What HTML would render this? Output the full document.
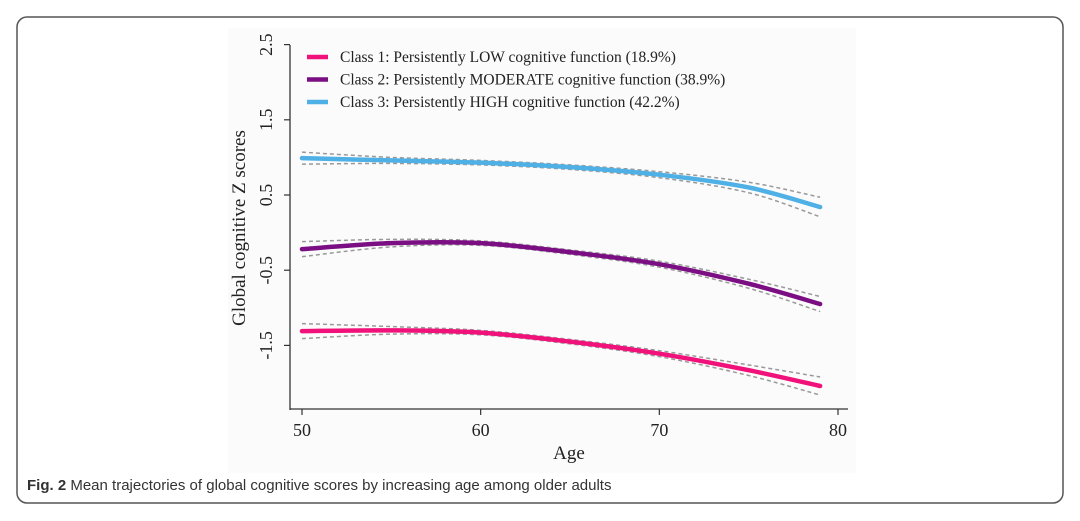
<!DOCTYPE html>
<html><head><meta charset="utf-8"><style>
body{margin:0;background:#fff;width:1080px;height:521px;overflow:hidden}
svg{position:absolute;left:0;top:0}
</style></head><body>
<svg width="1080" height="521">
<rect x="17" y="17" width="1046" height="486" rx="10" fill="#fff" stroke="#555" stroke-width="1.5"/>
<rect x="228" y="28" width="628" height="445" fill="#fbfbfb"/>
<g id="plot"></g>
<text x="27" y="490" font-family="'Liberation Sans',sans-serif" font-size="15" fill="#333"><tspan font-weight="bold">Fig. 2</tspan> Mean trajectories of global cognitive scores by increasing age among older adults</text>
</svg>
<script>
const ages=[50,55,60,65,70,75,79];
const class1=[-1.31,-1.30,-1.33,-1.45,-1.61,-1.83,-2.04];
const class2=[-0.22,-0.14,-0.14,-0.26,-0.42,-0.68,-0.95];
const class3=[0.99,0.96,0.93,0.87,0.77,0.60,0.34];
const ciHalf1=[0.10,0.05,0.03,0.03,0.04,0.07,0.12];
const ciHalf2=[0.10,0.05,0.03,0.03,0.04,0.06,0.10];
const ciHalf3=[0.08,0.04,0.03,0.03,0.04,0.07,0.13];
const xTicks=[50,60,70,80];
const yTicks=[2.5,1.5,0.5,-0.5,-1.5];
const legendLabels=["Class 1: Persistently LOW cognitive function (18.9%)","Class 2: Persistently MODERATE cognitive function (38.9%)","Class 3: Persistently HIGH cognitive function (42.2%)"];
const colors=["#f0127a","#7a0e82","#4fb0e6"];
const NS="http://www.w3.org/2000/svg";
const g=document.getElementById('plot');
const X=a=>302+(a-50)*(838-302)/30;
const Y=v=>195-(v-0.5)*75.2;
function el(t,at){const e=document.createElementNS(NS,t);for(const k in at)e.setAttribute(k,at[k]);g.appendChild(e);return e;}
function path(vals){let d='';for(let i=0;i<ages.length;i++){d+=(i?' L':'M')+X(ages[i]).toFixed(1)+' '+Y(vals[i]).toFixed(1);}
 // smooth via catmull-rom
 const p=ages.map((a,i)=>[X(a),Y(vals[i])]);d='M'+p[0][0]+' '+p[0][1];
 for(let i=0;i<p.length-1;i++){const p0=p[Math.max(0,i-1)],p1=p[i],p2=p[i+1],p3=p[Math.min(p.length-1,i+2)];
 d+=` C${p1[0]+(p2[0]-p0[0])/6} ${p1[1]+(p2[1]-p0[1])/6} ${p2[0]-(p3[0]-p1[0])/6} ${p2[1]-(p3[1]-p1[1])/6} ${p2[0]} ${p2[1]}`;}
 return d;}
// axes
let ax=el('line',{x1:290,y1:45,x2:290,y2:410,stroke:'#333','stroke-width':1.3});

ax=el('line',{x1:290,y1:409,x2:848,y2:409,stroke:'#333','stroke-width':1.3});

yTicks.forEach(v=>{const y=Y(v);
 const t=el('line',{x1:284,y1:y,x2:290,y2:y,stroke:'#333','stroke-width':1.2});
 
 const tx=el('text',{x:0,y:0,transform:`translate(272,${y}) rotate(-90)`,'text-anchor':'middle','font-family':'Liberation Serif,serif','font-size':18,fill:'#222'});
 tx.textContent=v.toFixed(1);
 });
xTicks.forEach(a=>{const x=X(a);
 const t=el('line',{x1:x,y1:409,x2:x,y2:415,stroke:'#333','stroke-width':1.2});
 
 const tx=el('text',{x:x,y:436,'text-anchor':'middle','font-family':'Liberation Serif,serif','font-size':18,fill:'#222'});
 tx.textContent=a;
 });
let tt=el('text',{x:569,y:459,'text-anchor':'middle','font-family':'Liberation Serif,serif','font-size':19,fill:'#222'});
tt.textContent='Age';
tt=el('text',{x:0,y:0,transform:'translate(245,228) rotate(-90)','text-anchor':'middle','font-family':'Liberation Serif,serif','font-size':19,fill:'#222'});
tt.textContent='Global cognitive Z scores';
// series
[[class1,ciHalf1],[class2,ciHalf2],[class3,ciHalf3]].forEach(([s,c],k)=>{
 [1,-1].forEach(sg=>{const b=el('path',{d:path(s.map((v,i)=>v+sg*c[i])),fill:'none',stroke:'#999','stroke-width':1.5,'stroke-dasharray':'4 3'});
 });
 const l=el('path',{d:path(s),fill:'none',stroke:colors[k],'stroke-width':4.5,'stroke-linecap':'round'});
 
});
legendLabels.forEach((lab,k)=>{const y=57+k*22.5;
 const m=el('line',{x1:307,y1:y,x2:328,y2:y,stroke:colors[k],'stroke-width':4.5});
 
 const t=el('text',{x:340,y:y+5,'font-family':'Liberation Serif,serif','font-size':15.5,fill:'#222'});
 t.textContent=lab;});
</script>
</body></html>
